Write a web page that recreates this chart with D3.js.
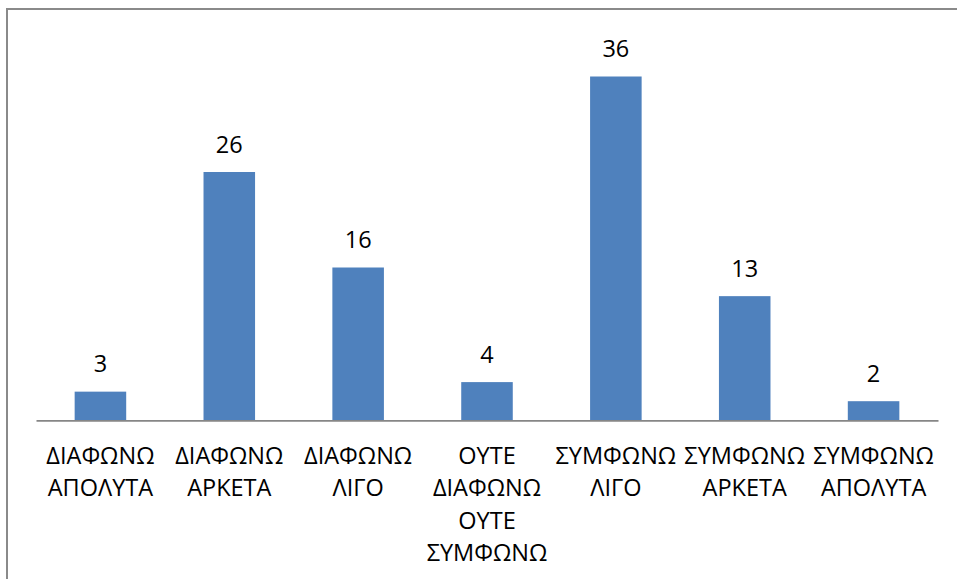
<!DOCTYPE html>
<html><head><meta charset="utf-8">
<script src="https://cdn.jsdelivr.net/npm/d3@7"></script>
<style>html,body{margin:0;padding:0;background:#fff;}svg{display:block;}</style>
</head><body>
<svg id="chart" width="957" height="579"></svg>
<script>
const categories = ["ΔΙΑΦΩΝΩ ΑΠΟΛΥΤΑ","ΔΙΑΦΩΝΩ ΑΡΚΕΤΑ","ΔΙΑΦΩΝΩ ΛΙΓΟ","ΟΥΤΕ ΔΙΑΦΩΝΩ ΟΥΤΕ ΣΥΜΦΩΝΩ","ΣΥΜΦΩΝΩ ΛΙΓΟ","ΣΥΜΦΩΝΩ ΑΡΚΕΤΑ","ΣΥΜΦΩΝΩ ΑΠΟΛΥΤΑ"];
const values = [3, 26, 16, 4, 36, 13, 2];
const yDomain = [0, 40];

const W = 957, H = 579;
const plot = {left: 36, right: 938, top: 38.3, bottom: 420.3};
const font = "'Open Sans', sans-serif";
const fs = 23.5;

const svg = d3.select("#chart");
// frame (cropped border)
svg.append("path").attr("d", `M7,${H} L7,9 L${W},9`).attr("fill","none").attr("stroke","#8a8a8a").attr("stroke-width",2);

const x = d3.scaleBand().domain(categories).range([plot.left, plot.right]).paddingInner(0.6).paddingOuter(0.3);
const y = d3.scaleLinear().domain(yDomain).range([plot.bottom, plot.top]);

svg.selectAll("rect.bar").data(values).join("rect").attr("class","bar")
  .attr("x",(d,i)=>x(categories[i])).attr("width",x.bandwidth())
  .attr("y",d=>y(d)).attr("height",d=>y(0)-y(d)).attr("fill","#4f81bd");

svg.selectAll("text.val").data(values).join("text").attr("class","val")
  .attr("x",(d,i)=>x(categories[i])+x.bandwidth()/2).attr("y",d=>y(d)-19.5)
  .attr("text-anchor","middle").attr("font-family",font).attr("font-size",fs).attr("fill","#000")
  .text(d=>d);

const xAxis = d3.axisBottom(x).tickSize(0).tickSizeOuter(0).tickFormat("");
const gx = svg.append("g").attr("transform",`translate(0,${plot.bottom})`).call(xAxis);
gx.select(".domain").attr("stroke","#868686").attr("stroke-width",1.8);

const labels = svg.append("g");
categories.forEach(c=>{
  const words = c.split(" ");
  const t = labels.append("text").attr("text-anchor","middle").attr("font-family",font).attr("font-size",fs).attr("fill","#000");
  words.forEach((w,j)=>{
    t.append("tspan").attr("x",x(c)+x.bandwidth()/2).attr("y",plot.bottom+43.2+j*32.5).text(w);
  });
});
</script>
</body></html>
